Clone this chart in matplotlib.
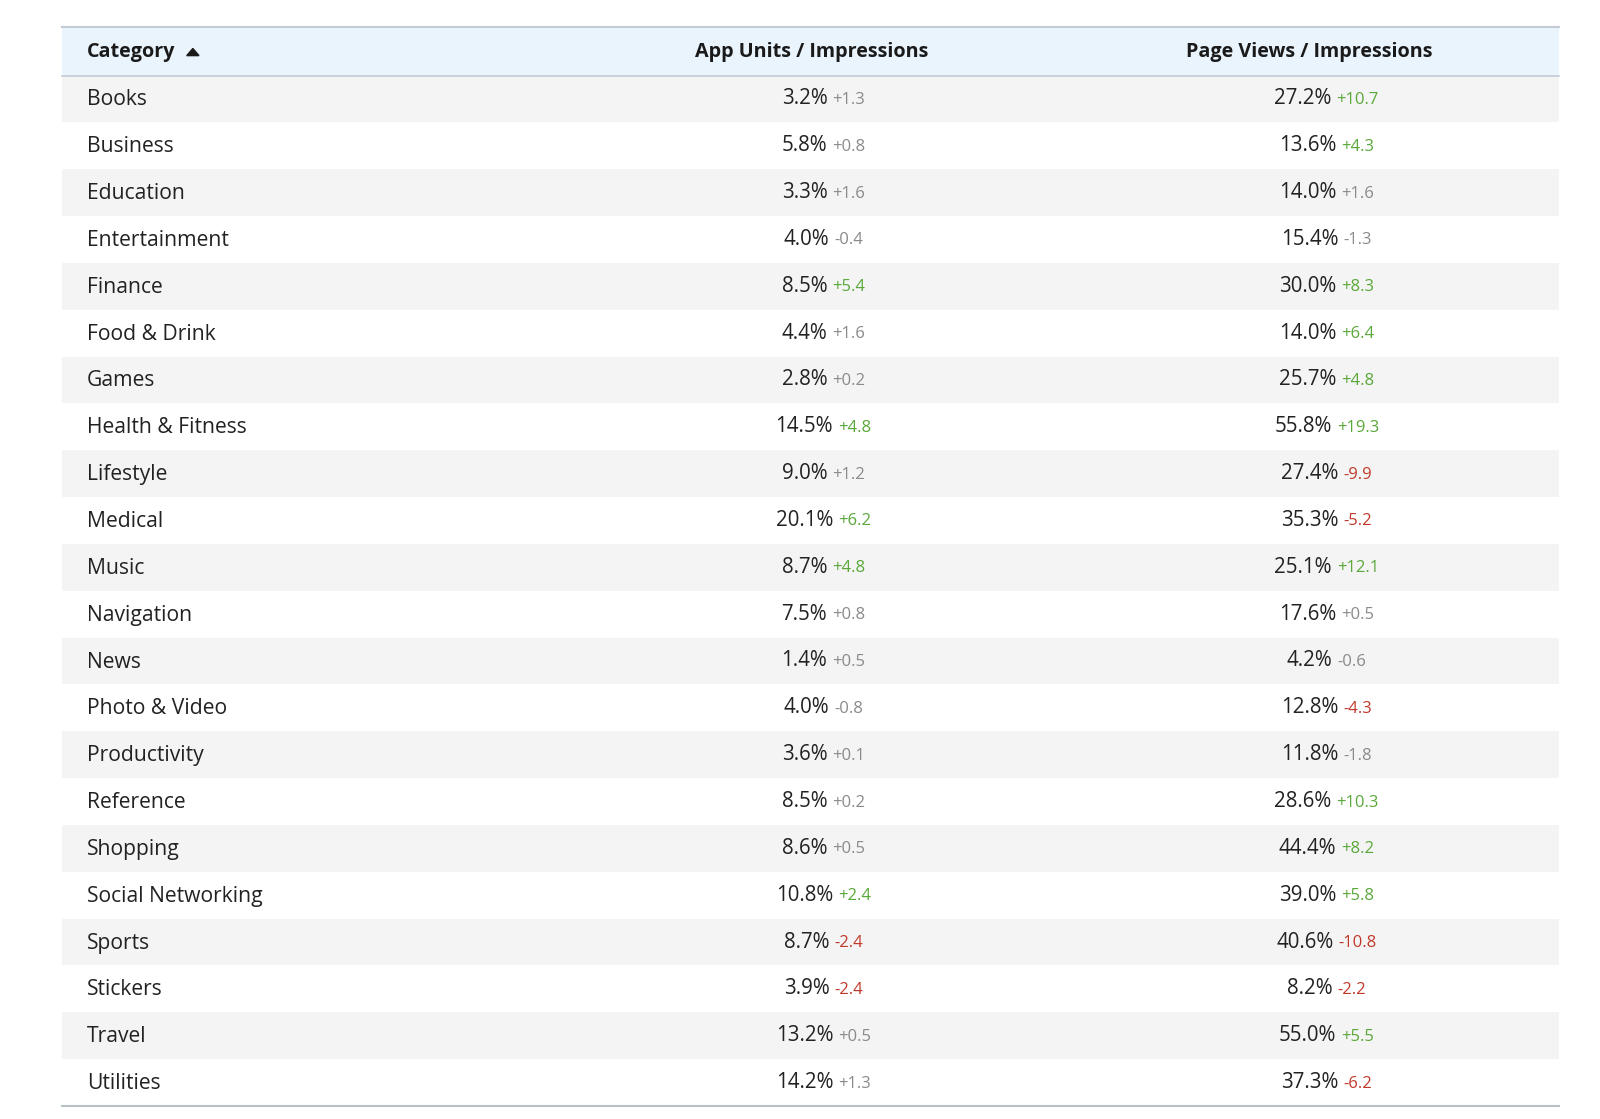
import matplotlib
matplotlib.use("Agg")
import matplotlib.pyplot as plt
from matplotlib.patches import Rectangle, Polygon

categories = ["Books","Business","Education","Entertainment","Finance","Food & Drink","Games",
              "Health & Fitness","Lifestyle","Medical","Music","Navigation","News","Photo & Video",
              "Productivity","Reference","Shopping","Social Networking","Sports","Stickers","Travel","Utilities"]
app_units = [3.2,5.8,3.3,4.0,8.5,4.4,2.8,14.5,9.0,20.1,8.7,7.5,1.4,4.0,3.6,8.5,8.6,10.8,8.7,3.9,13.2,14.2]
app_delta = [1.3,0.8,1.6,-0.4,5.4,1.6,0.2,4.8,1.2,6.2,4.8,0.8,0.5,-0.8,0.1,0.2,0.5,2.4,-2.4,-2.4,0.5,1.3]
page_views = [27.2,13.6,14.0,15.4,30.0,14.0,25.7,55.8,27.4,35.3,25.1,17.6,4.2,12.8,11.8,28.6,44.4,39.0,40.6,8.2,55.0,37.3]
page_delta = [10.7,4.3,1.6,-1.3,8.3,6.4,4.8,19.3,-9.9,-5.2,12.1,0.5,-0.6,-4.3,-1.8,10.3,8.2,5.8,-10.8,-2.2,5.5,-6.2]
headers = ["Category", "App Units / Impressions", "Page Views / Impressions"]

FONT = "Open Sans"
fig = plt.figure(figsize=(16, 11.19), dpi=100)
ax = fig.add_axes([0, 0, 1, 1])
ax.set_xlim(0, 1568); ax.set_ylim(1096.6, 0); ax.axis("off")

L, R = 61, 1528
top, hh, rh = 27, 47, 45.9
ax.add_patch(Rectangle((L, top), R-L, hh, color="#e9f4fd", lw=0))
ax.plot([L, R], [top-1, top-1], color="#c3ccd6", lw=1.5)
ax.plot([L, R], [top+hh, top+hh], color="#c3ccd6", lw=1.2)
hy = top + hh/2
HFS = 14.2
ax.text(85, hy, headers[0], fontsize=HFS, fontweight="bold", family=FONT, va="center", color="#1a1a1a")
ax.add_patch(Polygon([[183, hy+4], [195, hy+4], [189, hy-3]], color="#1a1a1a"))
ax.text(795, hy, headers[1], fontsize=HFS, fontweight="bold", family=FONT, va="center", ha="center", color="#1a1a1a")
ax.text(1283, hy, headers[2], fontsize=HFS, fontweight="bold", family=FONT, va="center", ha="center", color="#1a1a1a")

def dcol(d):
    if d >= 2: return "#5aa83a"
    if d <= -2: return "#c0392b"
    return "#8a8a8a"

renderer = fig.canvas.get_renderer()
inv = ax.transData.inverted()

def width(t):
    bb = t.get_window_extent(renderer)
    a = inv.transform((bb.x0, bb.y0)); b = inv.transform((bb.x1, bb.y1))
    return b[0] - a[0]

y0 = top + hh
for i, cat in enumerate(categories):
    y = y0 + i*rh
    if i % 2 == 0:
        ax.add_patch(Rectangle((L, y), R-L, rh, color="#f4f4f4", lw=0))
    cy = y + rh/2
    ax.text(85, cy+1, cat, fontsize=15.2, family=FONT, va="center", color="#222222")
    for cx, v, d in [(807, app_units[i], app_delta[i]), (1300, page_views[i], page_delta[i])]:
        t1 = ax.text(0, cy, f"{v:.1f}%", fontsize=14.8, family=FONT, va="center", color="#222222")
        t2 = ax.text(0, cy+1, f"{d:+.1f}", fontsize=12, family=FONT, va="center", color=dcol(d))
        w1, w2 = width(t1), width(t2)
        gap = 5
        start = cx - (w1 + gap + w2)/2
        t1.set_x(start); t2.set_x(start + w1 + gap)
ax.plot([L, R], [y0+len(categories)*rh, y0+len(categories)*rh], color="#b8c0c8", lw=1.5)

fig.savefig("out.png", dpi=100, facecolor="white")
